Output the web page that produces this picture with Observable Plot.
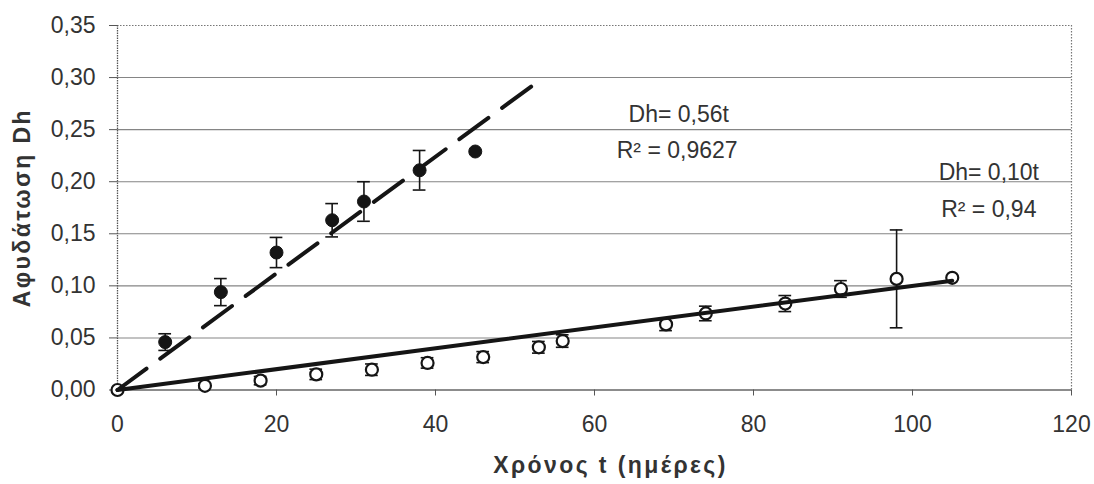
<!DOCTYPE html>
<html>
<head>
<meta charset="utf-8">
<script src="https://cdn.jsdelivr.net/npm/d3@7"></script>
<script src="https://cdn.jsdelivr.net/npm/@observablehq/plot@0.6"></script>
<style>
  body { margin: 0; background: #fff; }
  #chart svg { display: block; }
  /* axis titles are set slightly tracked out */
  #chart svg g[font-weight="bold"] text { letter-spacing: 2.4px; }
</style>
</head>
<body>
<div id="chart"></div>
<script>
// Series A (filled markers): time t in days, dehydration Dh, ± error
const tA   = [6, 13, 20, 27, 31, 38, 45];
const dhA  = [0.046, 0.094, 0.132, 0.163, 0.181, 0.211, 0.229];
const errA = [0.008, 0.013, 0.0145, 0.016, 0.019, 0.019, 0];

// Series B (open markers)
const tB   = [0, 11, 18, 25, 32, 39, 46, 53, 56, 69, 74, 84, 91, 98, 105];
const dhB  = [0, 0.004, 0.009, 0.015, 0.0195, 0.026, 0.0316, 0.041, 0.047, 0.063, 0.0735, 0.083, 0.097, 0.1067, 0.1077];
const errB = [0, 0.002, 0.004, 0.005, 0.0055, 0.005, 0.0053, 0.0056, 0.006, 0.006, 0.007, 0.0077, 0.008, 0.047, 0];

// Linear fits through the origin (coefficients as printed, per 100 days)
const fitCoefA = 0.56, fitR2A = "0,9627", fitEndA = 52.5;
const fitCoefB = 0.10, fitR2B = "0,94",   fitEndB = 105;

// Axis ticks
const xTicks = [0, 20, 40, 60, 80, 100, 120];
const yTicks = [0, 0.05, 0.10, 0.15, 0.20, 0.25, 0.30, 0.35];

const comma = v => d3.format(".2f")(v).replace(".", ",");
const coefLabel = c => "Dh= " + comma(c) + "t";

const A = tA.map((t, i) => ({t, dh: dhA[i], err: errA[i]}));
const B = tB.map((t, i) => ({t, dh: dhB[i], err: errB[i]}));
const lineA = [0, fitEndA].map(t => ({t, dh: fitCoefA / 100 * t}));
const lineB = [0, fitEndB].map(t => ({t, dh: fitCoefB / 100 * t}));
const withErr = [...A, ...B].filter(d => d.err > 0);
const capHalf = 0.8;

const ink = "#151515";
const textInk = "#333";
const font = "'Liberation Sans', Arial, sans-serif";

const plot = Plot.plot({
  width: 1094,
  height: 484,
  marginLeft: 117,
  marginRight: 23,
  marginTop: 25,
  marginBottom: 94.5,
  style: {fontFamily: font, color: textInk, background: "#fff"},
  x: {domain: [0, 120]},
  y: {domain: [0, 0.35]},
  marks: [
    // horizontal gridlines
    Plot.ruleY(yTicks.slice(1, -1), {stroke: "#858585", strokeWidth: 1.1}),
    // dotted plot border (top, right, left)
    Plot.ruleY([0.35], {stroke: "#777", strokeDasharray: "1.5,1.5", strokeWidth: 1.2}),
    Plot.ruleX([120], {stroke: "#777", strokeDasharray: "1.5,1.5", strokeWidth: 1.2}),
    Plot.ruleX([0], {stroke: "#555", strokeDasharray: "1.5,1", strokeWidth: 1.3}),
    // x baseline
    Plot.ruleY([0], {stroke: "#666", strokeWidth: 1.6}),
    Plot.axisY({
      ticks: yTicks, tickFormat: comma, tickSize: 8, tickPadding: 14,
      fontSize: 23, label: null, stroke: "#555"
    }),
    Plot.axisX({
      ticks: xTicks, tickFormat: d3.format("d"), tickSize: 6, tickPadding: 20,
      fontSize: 23, label: null, stroke: "#555"
    }),
    // error bars
    Plot.ruleX(withErr, {x: "t", y1: d => d.dh - d.err, y2: d => d.dh + d.err, stroke: ink, strokeWidth: 1.6}),
    Plot.ruleY(withErr, {y: d => d.dh + d.err, x1: d => d.t - capHalf, x2: d => d.t + capHalf, stroke: ink, strokeWidth: 1.6}),
    Plot.ruleY(withErr, {y: d => d.dh - d.err, x1: d => d.t - capHalf, x2: d => d.t + capHalf, stroke: ink, strokeWidth: 1.6}),
    // markers
    Plot.dot(B, {x: "t", y: "dh", r: 6, fill: "#fff", stroke: ink, strokeWidth: 2.2}),
    Plot.dot(A, {x: "t", y: "dh", r: 6.5, fill: ink, stroke: ink, strokeWidth: 1}),
    // fitted lines
    Plot.line(lineB, {x: "t", y: "dh", stroke: ink, strokeWidth: 4}),
    Plot.line(lineA, {x: "t", y: "dh", stroke: ink, strokeWidth: 4, strokeDasharray: "36,17"}),
    // fit annotations
    Plot.text([coefLabel(fitCoefA)], {x: 70.6, y: 0.2645, fontSize: 23, fill: textInk}),
    Plot.text(["R² = " + fitR2A], {x: 70.4, y: 0.230, fontSize: 23, fill: textInk}),
    Plot.text([coefLabel(fitCoefB)], {x: 109.6, y: 0.209, fontSize: 23, fill: textInk}),
    Plot.text(["R² = " + fitR2B], {x: 109.6, y: 0.173, fontSize: 23, fill: textInk}),
    // axis titles
    Plot.text(["Αφυδάτωση Dh"], {frameAnchor: "left", textAnchor: "middle", dx: -95, rotate: -90, fontSize: 23, fontWeight: "bold", fill: textInk}),
    Plot.text(["Χρόνος t (ημέρες)"], {frameAnchor: "bottom", textAnchor: "middle", dx: 16, dy: 83, fontSize: 23, fontWeight: "bold", fill: textInk})
  ]
});

document.getElementById("chart").append(plot);
</script>
</body>
</html>
